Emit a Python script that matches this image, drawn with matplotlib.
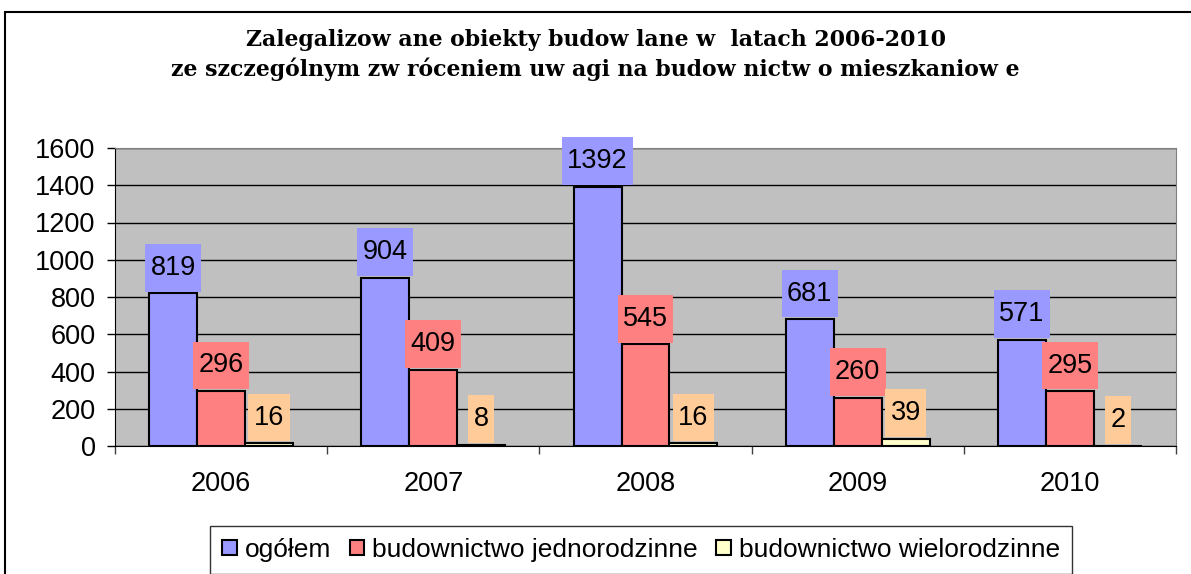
import numpy as np
import matplotlib
matplotlib.use('Agg')
import matplotlib.pyplot as plt
from matplotlib.patches import Rectangle
from matplotlib.path import Path

years = ['2006', '2007', '2008', '2009', '2010']
ogolem = [819, 904, 1392, 681, 571]
jednorodzinne = [296, 409, 545, 260, 295]
wielorodzinne = [16, 8, 16, 39, 2]
series_names = ['ogółem', 'budownictwo jednorodzinne', 'budownictwo wielorodzinne']
title_lines = ['Zalegalizow ane obiekty budow lane w  latach 2006-2010',
               'ze szczególnym zw róceniem uw agi na budow nictw o mieszkaniow e']

plt.rcParams['font.family'] = ['Liberation Sans', 'DejaVu Sans']

bar_colors = ['#9999FF', '#FF8080', '#FFFFCC']
label_colors = ['#9999FF', '#FF8080', '#FFCC99']


# label box: narrow on the sides, tall on top and bottom (like Excel data labels)
def tall_box(x0, y0, width, height, mutation_size):
    px = 0.2 * mutation_size
    py = 0.4 * mutation_size
    x0, y0 = x0 - px, y0 - py
    x1, y1 = x0 + width + 2 * px, y0 + height + 2 * py
    return Path([(x0, y0), (x1, y0), (x1, y1), (x0, y1), (x0, y0)], closed=True)


fig = plt.figure(figsize=(11.91, 5.74), dpi=100)
ax = fig.add_axes([115 / 1191, 1 - 446 / 574, (1176 - 115) / 1191, (446 - 148) / 574])
ax.set_facecolor('#C0C0C0')

x = np.arange(len(years))
w = 0.226
handles = []
for i, vals in enumerate([ogolem, jednorodzinne, wielorodzinne]):
    pos = x + (i - 1) * w
    b = ax.bar(pos, vals, w, color=bar_colors[i], edgecolor='black', linewidth=1.5, zorder=3)
    handles.append(b)
    for p, v in zip(pos, vals):
        ax.annotate(str(v), (p, v), xytext=(0, 9), textcoords='offset points',
                    ha='center', va='bottom', fontsize=19.5, zorder=4, annotation_clip=False,
                    bbox=dict(boxstyle=tall_box, fc=label_colors[i], ec='none'))

ax.set_xlim(-0.5, 4.5)
ax.set_ylim(0, 1600)
ax.set_yticks(range(0, 1601, 200))
ax.yaxis.grid(True, color='black', linewidth=1, zorder=1)
ax.set_axisbelow(True)
ax.set_xticks(np.arange(-0.5, 5, 1))
ax.set_xticklabels([])
ax.set_xticks(x, minor=True)
ax.set_xticklabels(years, minor=True)
ax.tick_params(axis='x', which='major', length=6, width=1, color='#404040')
ax.tick_params(axis='x', which='minor', length=0, pad=18, labelsize=19.5)
ax.tick_params(axis='y', length=6, width=1, labelsize=19.5, pad=8)
ax.spines['left'].set_color('black')
ax.spines['bottom'].set_color('black')
ax.spines['top'].set_color('#808080')
ax.spines['right'].set_color('#808080')

fig.text(0.5, 1 - 40 / 574, title_lines[0], ha='center', va='center',
         fontsize=15.8, fontweight='bold', family='DejaVu Serif')
fig.text(0.5, 1 - 69 / 574, title_lines[1], ha='center', va='center',
         fontsize=15.8, fontweight='bold', family='DejaVu Serif')

fig.patches.append(Rectangle((5 / 1191, -0.1), 1.2, 1.1 - 12 / 574, transform=fig.transFigure,
                             fill=False, edgecolor='black', linewidth=1.5))

leg = fig.legend(handles, series_names, loc='upper center', bbox_to_anchor=(641 / 1191, 1 - 526 / 574),
                 ncol=3, fontsize=19, frameon=True, fancybox=False, edgecolor='black',
                 handlelength=0.55, handleheight=0.55, handletextpad=0.3, columnspacing=0.7,
                 borderpad=0.45, borderaxespad=0)
leg.get_frame().set_linewidth(1)

fig.savefig('out.png', dpi=100)
